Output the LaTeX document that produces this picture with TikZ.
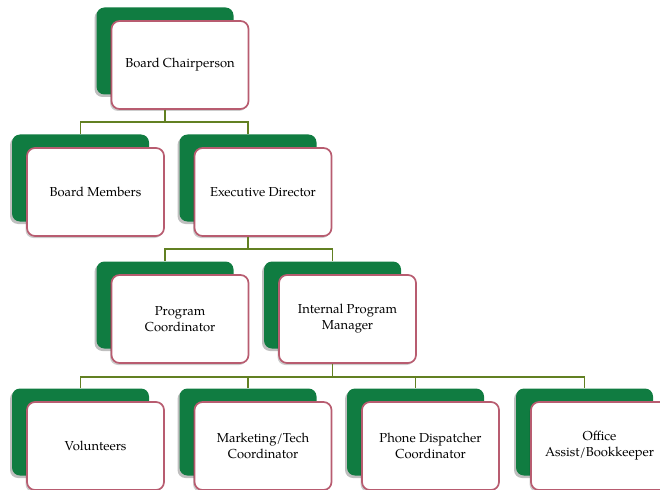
\documentclass[tikz,border=0pt]{standalone}
\usepackage{fontspec}
\setmainfont{TeX Gyre Pagella}
\usetikzlibrary{shadows,calc}
\definecolor{boxgreen}{RGB}{16,124,65}
\definecolor{boxborder}{RGB}{184,92,112}
\definecolor{conn}{RGB}{98,128,34}
\begin{document}
\begin{tikzpicture}[x=1pt,y=-1pt,
  greenbox/.style={fill=boxgreen, rounded corners=8pt, minimum width=137pt, minimum height=87pt, inner sep=0pt,
    drop shadow={shadow xshift=-2pt, shadow yshift=-2.5pt, opacity=0.25, fill=black}},
  whitebox/.style={fill=white, draw=boxborder, line width=1.7pt, rounded corners=8pt, minimum width=137pt, minimum height=88pt, inner sep=2pt, align=center, font=\fontsize{13}{16}\selectfont,
    drop shadow={shadow xshift=-1.5pt, shadow yshift=-2pt, opacity=0.2, fill=black}},
  link/.style={draw=conn, line width=1.8pt}]
\useasboundingbox (0,0) rectangle (660,489);
\clip (0,0) rectangle (660,489);
% row 0
\node[greenbox] (g0) at (165,51) {};
\node[whitebox] (w0) at (180,65) {Board Chairperson};
% row 1
\node[greenbox] (g1a) at (80.5,178) {};
\node[whitebox] (w1a) at (95.5,192) {Board Members};
\node[greenbox] (g1b) at (248,178) {};
\node[whitebox] (w1b) at (263,192) {Executive Director};
% row 2
\node[greenbox] (g2a) at (165,305) {};
\node[whitebox] (w2a) at (180,319) {Program\\Coordinator};
\node[greenbox] (g2b) at (332.5,305) {};
\node[whitebox] (w2b) at (347.5,319) {Internal Program\\Manager};
% row 3
\node[greenbox] (g3a) at (80.5,432) {};
\node[whitebox] (w3a) at (95.5,446) {Volunteers};
\node[greenbox] (g3b) at (248,432) {};
\node[whitebox] (w3b) at (263,446) {Marketing/Tech\\Coordinator};
\node[greenbox] (g3c) at (415.5,432) {};
\node[whitebox] (w3c) at (430.5,446) {Phone Dispatcher\\Coordinator};
\node[greenbox] (g3d) at (584.5,432) {};
\node[whitebox] (w3d) at (599.5,446) {Office\\Assist/Bookkeeper};
% connectors
\draw[link] (g0 |- w0.south) -- ++(0,12) -| (g1a.north);
\draw[link] (g0 |- w0.south) -- ++(0,12) -| (g1b.north);
\draw[link] (g1b |- w1b.south) -- ++(0,12) -| (g2a.north);
\draw[link] (g1b |- w1b.south) -- ++(0,12) -| (g2b.north);
\draw[link] (g2b |- w2b.south) -- ++(0,13) -| (g3a.north);
\draw[link] (g2b |- w2b.south) -- ++(0,13) -| (g3b.north);
\draw[link] (g2b |- w2b.south) -- ++(0,13) -| (g3c.north);
\draw[link] (g2b |- w2b.south) -- ++(0,13) -| (g3d.north);
\end{tikzpicture}
\end{document}
